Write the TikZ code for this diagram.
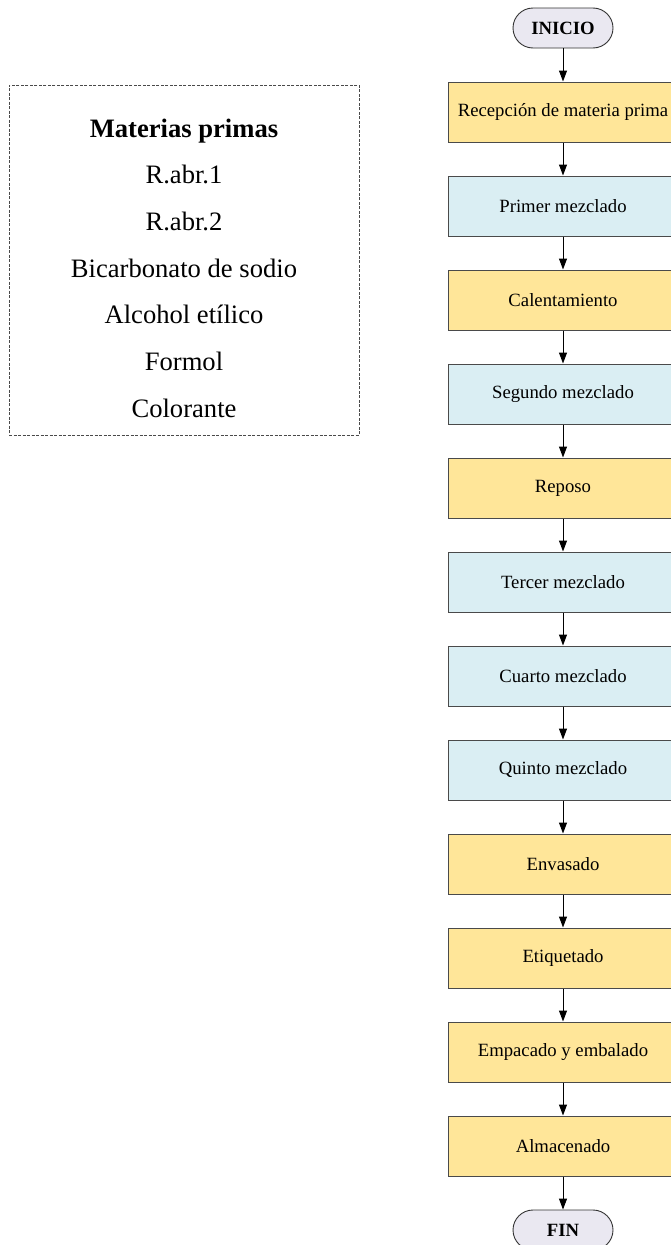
\documentclass[tikz,border=0pt]{standalone}
\usepackage{fontspec}
\setmainfont{Liberation Serif}
\usetikzlibrary{arrows.meta}
\definecolor{ybox}{HTML}{FFE699}
\definecolor{bbox}{HTML}{DAEEF3}
\definecolor{tfill}{HTML}{EAE8F1}
\definecolor{edgec}{HTML}{4A4A4A}
\begin{document}
\begin{tikzpicture}[x=1pt,y=-1pt,
  proc/.style={draw=edgec, line width=1pt, minimum width=230pt, minimum height=60pt, inner sep=0pt, font=\fontsize{18.7}{22}\selectfont},
  yproc/.style={proc, fill=ybox},
  bproc/.style={proc, fill=bbox},
  term/.style={draw=black!80, line width=0.9pt, fill=tfill, rounded corners=20pt, minimum width=100pt, minimum height=40pt, inner sep=0pt, font=\fontsize{18.7}{22}\selectfont\bfseries},
  flow/.style={-{Triangle[width=8pt,length=11pt]}, line width=1pt, black},
  listbox/.style={draw=edgec, line width=1pt, dash pattern=on 3pt off 1.5pt, minimum width=350pt, minimum height=350pt, inner sep=0pt},
  listtext/.style={align=center, inner sep=0pt, font=\fontsize{26.6}{46.7}\selectfont}
]
\useasboundingbox (0,0) rectangle (670,1245);

\node[listbox] (mpbox) at (184,260) {};
\node[listtext] (mptext) at (184,268) {\textbf{Materias primas}\\R.abr.1\\R.abr.2\\Bicarbonato de sodio\\Alcohol etílico\\Formol\\Colorante};

\node[term] (inicio) at (563,28) {INICIO};
\node[yproc] (n1) at (563,112) {Recepción de materia prima};
\node[bproc] (n2) at (563,206) {Primer mezclado};
\node[yproc] (n3) at (563,300) {Calentamiento};
\node[bproc] (n4) at (563,394) {Segundo mezclado};
\node[yproc] (n5) at (563,488) {Reposo};
\node[bproc] (n6) at (563,582) {Tercer mezclado};
\node[bproc] (n7) at (563,676) {Cuarto mezclado};
\node[bproc] (n8) at (563,770) {Quinto mezclado};
\node[yproc] (n9) at (563,864) {Envasado};
\node[yproc] (n10) at (563,958) {Etiquetado};
\node[yproc] (n11) at (563,1052) {Empacado y embalado};
\node[yproc] (n12) at (563,1146) {Almacenado};
\node[term] (fin) at (563,1230) {FIN};

\draw[flow] (inicio) -- (n1);
\draw[flow] (n1) -- (n2);
\draw[flow] (n2) -- (n3);
\draw[flow] (n3) -- (n4);
\draw[flow] (n4) -- (n5);
\draw[flow] (n5) -- (n6);
\draw[flow] (n6) -- (n7);
\draw[flow] (n7) -- (n8);
\draw[flow] (n8) -- (n9);
\draw[flow] (n9) -- (n10);
\draw[flow] (n10) -- (n11);
\draw[flow] (n11) -- (n12);
\draw[flow] (n12) -- (fin);
\end{tikzpicture}
\end{document}
